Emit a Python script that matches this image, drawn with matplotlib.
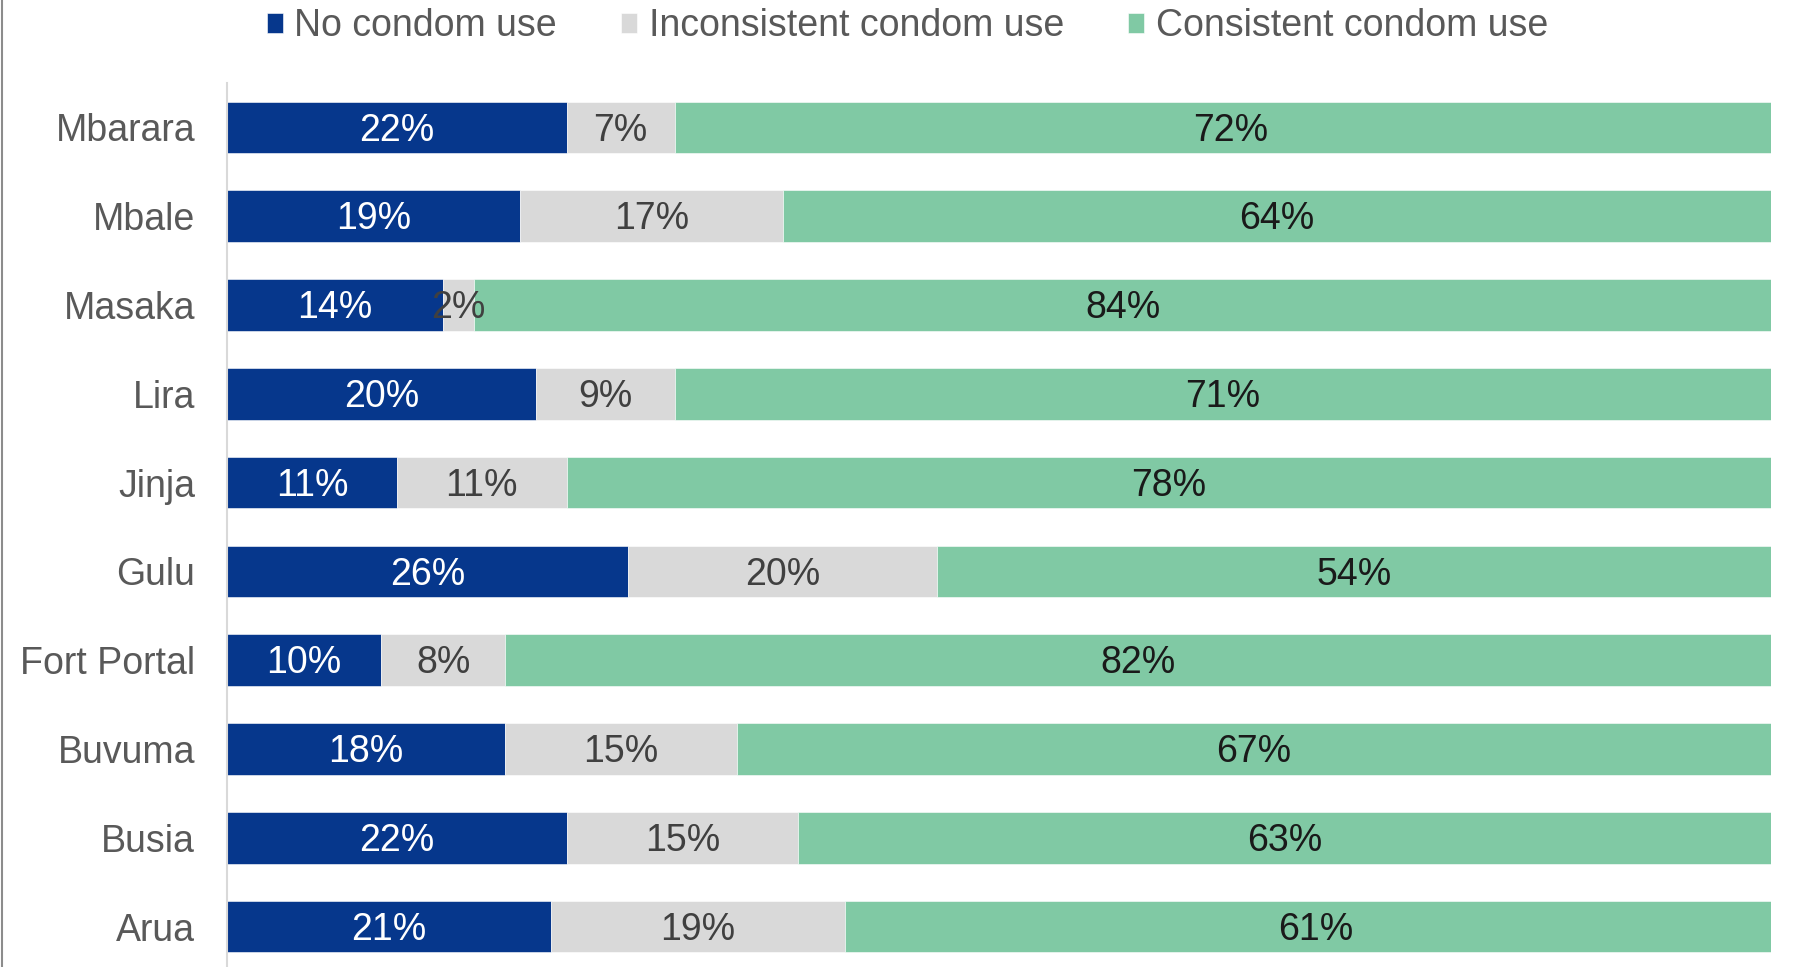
import matplotlib.pyplot as plt
from matplotlib.lines import Line2D

# Condom use by district (share of respondents)
districts = ["Mbarara", "Mbale", "Masaka", "Lira", "Jinja",
             "Gulu", "Fort Portal", "Buvuma", "Busia", "Arua"]
no_use = [22, 19, 14, 20, 11, 26, 10, 18, 22, 21]
inconsistent = [7, 17, 2, 9, 11, 20, 8, 15, 15, 19]
consistent = [72, 64, 84, 71, 78, 54, 82, 67, 63, 61]

series = [
    ("No condom use", no_use, "#06378C", "white"),
    ("Inconsistent condom use", inconsistent, "#D9D9D9", "#404040"),
    ("Consistent condom use", consistent, "#80C9A4", "#1A1A1A"),
]

plt.rcParams['font.family'] = ['Liberation Sans', 'DejaVu Sans']
FS = 27

fig = plt.figure(figsize=(17.93, 9.67), dpi=100)
ax = fig.add_axes([227 / 1793, 0.0, (1771 - 227) / 1793, 1 - 83 / 967])

y = list(range(len(districts)))
left = [0] * len(districts)
for name, vals, color, txt in series:
    bars = ax.barh(y, vals, left=left, height=0.58, color=color,
                   edgecolor="white", linewidth=0.4, label=name)
    for i, (bar, v) in enumerate(zip(bars, vals)):
        ax.text(left[i] + v / 2, y[i] + 0.035, f"{v}%", ha="center",
                va="center", fontsize=FS, color=txt)
    left = [a + b for a, b in zip(left, vals)]

ax.set_xlim(0, 100)
ax.set_ylim(9.455, -0.5)
ax.set_yticks(y)
ax.set_yticklabels(districts, fontsize=FS, color="#595959")
ax.tick_params(axis="y", length=0, pad=23)
ax.set_xticks([])
for s in ["top", "right", "bottom"]:
    ax.spines[s].set_visible(False)
ax.spines["left"].set_color("#D9D9D9")
ax.spines["left"].set_linewidth(1.5)

leg = fig.legend(loc="center", bbox_to_anchor=(0.506, 0.973), ncol=3,
                 frameon=False, fontsize=FS, handlelength=0.43,
                 handleheight=0.43, handletextpad=0.3, columnspacing=1.72,
                 borderaxespad=0)
for t in leg.get_texts():
    t.set_color("#595959")

# thin frame line on the left edge
fig.add_artist(Line2D([2 / 1793, 2 / 1793], [0, 1], transform=fig.transFigure,
                      color="#8C8C8C", linewidth=1.5))

fig.savefig("out.png", dpi=100)
